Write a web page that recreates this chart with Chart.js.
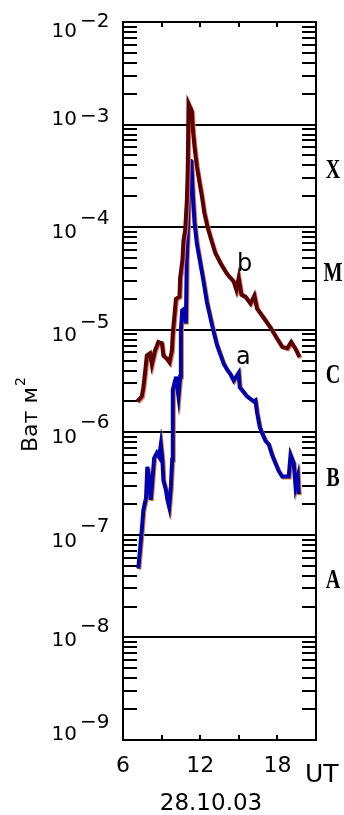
<!DOCTYPE html>
<html>
<head>
<meta charset="utf-8">
<script src="https://cdn.jsdelivr.net/npm/chart.js@4"></script>
<style>
  html, body { margin: 0; padding: 0; background: #fff; }
  #wrap { width: 344px; height: 815px; }
</style>
</head>
<body>
<div id="wrap"><canvas id="flux-chart" width="344" height="815"></canvas></div>
<script>
// curve b (upper, dark red)
const hoursB = [7.11, 7.46, 7.58, 7.71, 7.85, 8.10, 8.24, 8.49, 8.75, 9.02, 9.14, 9.41, 9.61, 9.80, 9.87, 9.98,
  10.11, 10.39, 10.44, 10.62, 10.70, 10.83, 10.96, 11.03, 11.09, 11.35, 11.43, 11.56, 11.74, 11.95, 12.13, 12.31,
  12.57, 12.78, 13.17, 13.56, 14.08, 14.60, 14.81, 14.99, 15.20, 15.51, 15.90, 16.21, 16.42, 16.94, 17.46, 17.85,
  18.37, 18.76, 19.07, 19.41, 19.72];
const fluxB = [2.0e-6, 2.24e-6, 2.75e-6, 3.8e-6, 5.6e-6, 5.9e-6, 4.6e-6, 6.3e-6, 7.6e-6, 7.4e-6, 5.6e-6, 5.2e-6, 4.8e-6, 6.3e-6, 9.3e-6, 1.3e-5,
  2.0e-5, 2.1e-5, 3.2e-5, 4.8e-5, 7.4e-5, 9.3e-5, 1.8e-4, 3.6e-4, 1.6e-3, 1.35e-3, 8.9e-4, 6.0e-4, 3.9e-4, 2.7e-4, 2.0e-4, 1.4e-4,
  1.0e-4, 8.1e-5, 5.6e-5, 4.5e-5, 3.5e-5, 2.95e-5, 2.45e-5, 3.2e-5, 2.2e-5, 2.1e-5, 1.8e-5, 2.15e-5, 1.6e-5, 1.3e-5, 1.05e-5, 8.7e-6,
  6.8e-6, 6.6e-6, 7.6e-6, 6.5e-6, 5.4e-6];

// curve a (lower, blue)
const hoursA = [7.19, 7.33, 7.46, 7.58, 7.79, 7.89, 8.05, 8.16, 8.29, 8.42, 8.63, 8.81, 8.94, 9.06, 9.14, 9.33,
  9.45, 9.59, 9.72, 9.82, 9.87, 10.05, 10.11, 10.31, 10.44, 10.50, 10.60, 10.75, 10.89, 10.95, 11.01, 11.10,
  11.17, 11.31, 11.43, 11.56, 11.74, 12.00, 12.26, 12.52, 12.91, 13.30, 13.82, 14.08, 14.34, 14.60, 14.99, 15.07,
  15.64, 16.16, 16.29, 16.42, 16.63, 16.81, 17.07, 17.33, 17.59, 17.85, 18.10, 18.37, 18.88, 19.02, 19.27, 19.41,
  19.59, 19.66];
const fluxA = [4.7e-8, 7.4e-8, 1.12e-7, 1.74e-7, 2.3e-7, 4.6e-7, 3.4e-7, 2.2e-7, 3.5e-7, 5.6e-7, 6.3e-7, 5.75e-7, 7.6e-7, 5.4e-7, 3.4e-7, 2.75e-7,
  2.2e-7, 1.86e-7, 2.95e-7, 5.4e-7, 2.6e-6, 3.2e-6, 3.5e-6, 2.24e-6, 3.5e-6, 1.0e-5, 1.55e-5, 1.6e-5, 1.15e-5, 4.8e-5, 7.4e-5, 1.8e-4,
  4.5e-4, 4.4e-4, 2.0e-4, 1.1e-4, 6.9e-5, 4.5e-5, 2.95e-5, 1.86e-5, 1.12e-5, 7.1e-6, 4.7e-6, 4.1e-6, 3.7e-6, 3.2e-6, 3.8e-6, 2.75e-6,
  2.24e-6, 2.0e-6, 2.05e-6, 1.55e-6, 1.12e-6, 9.8e-7, 8.3e-7, 7.6e-7, 6.0e-7, 5.0e-7, 4.2e-7, 3.7e-7, 3.7e-7, 6.0e-7, 5.0e-7, 2.95e-7,
  3.7e-7, 2.5e-7];

const xTickHours = [9, 12, 15, 18];
const xLabelHours = [6, 12, 18];
const decadeExponents = [-2, -3, -4, -5, -6, -7, -8, -9];
const classNames = ["X", "M", "C", "B", "A"];
const classLowerBounds = [1e-4, 1e-5, 1e-6, 1e-7, 1e-8];
const curveNames = ["b", "a"];
const curveNameHours = [15.45, 15.35];
const curveNameFlux = [3.7e-5, 4.6e-6];
const xUnit = "UT";
const dateLabel = "28.10.03";
const yTitle = "Ват м";

const ctx = document.getElementById("flux-chart").getContext("2d");

const toPoints = (xs, ys) => xs.map((h, i) => ({ x: h, y: ys[i] }));

// offsets of "10" and exponent baselines from the decade line (px)
const tenOffset = { "-2": 15, "-3": 0, "-4": 11, "-5": 11, "-6": 11, "-7": 12, "-8": 9, "-9": 0 };
const expOffset = { "-2": 5, "-3": -3, "-4": -3, "-5": -2, "-6": -4, "-7": -3, "-8": -5, "-9": -12 };

const shadowColors = ["#e07a6a", "#d4842c"];
const textFont = '"DejaVu Sans"';

const axesPlugin = {
  id: "goesAxes",
  beforeDatasetsDraw(chart) {
    const c = chart.ctx;
    const a = chart.chartArea;
    const x = chart.scales.x;
    const y = chart.scales.y;
    c.save();
    c.strokeStyle = "#000";
    c.lineWidth = 2;
    c.beginPath();
    decadeExponents.forEach((e) => {
      if (e === -2 || e === -9) return;
      const py = Math.round(y.getPixelForValue(Math.pow(10, e)));
      c.moveTo(a.left, py);
      c.lineTo(a.right, py);
    });
    // minor log ticks, both sides
    for (let e = -9; e < -2; e++) {
      for (let m = 2; m <= 9; m++) {
        const py = Math.round(y.getPixelForValue(m * Math.pow(10, e)));
        c.moveTo(a.left, py);
        c.lineTo(a.left + 14, py);
        c.moveTo(a.right - 14, py);
        c.lineTo(a.right, py);
      }
    }
    xTickHours.forEach((h) => {
      const px = Math.round(x.getPixelForValue(h));
      c.moveTo(px, a.top);
      c.lineTo(px, a.top + 5);
      c.moveTo(px, a.bottom);
      c.lineTo(px, a.bottom - 5);
    });
    c.stroke();
    c.restore();
  },
  beforeDatasetDraw(chart, args) {
    chart.ctx.save();
    chart.ctx.shadowColor = shadowColors[args.index];
    chart.ctx.shadowOffsetX = 1;
    chart.ctx.shadowOffsetY = 1;
    chart.ctx.shadowBlur = 0;
  },
  afterDatasetDraw(chart) {
    chart.ctx.restore();
  },
  afterDraw(chart) {
    const c = chart.ctx;
    const a = chart.chartArea;
    const x = chart.scales.x;
    const y = chart.scales.y;
    c.save();
    c.strokeStyle = "#000";
    c.lineWidth = 2;
    c.strokeRect(a.left, a.top, a.right - a.left, a.bottom - a.top);

    c.fillStyle = "#000";
    c.font = "20px " + textFont;
    c.textBaseline = "alphabetic";
    decadeExponents.forEach((e) => {
      const py = y.getPixelForValue(Math.pow(10, e));
      c.textAlign = "right";
      c.fillText("10", a.left - 46, py + tenOffset[e]);
      c.textAlign = "left";
      c.fillText("\u2212" + Math.abs(e), a.left - 43, py + expOffset[e]);
    });

    c.font = "22px " + textFont;
    c.textAlign = "center";
    xLabelHours.forEach((h) => {
      c.fillText(String(h), x.getPixelForValue(h), a.bottom + 32);
    });
    c.font = "25px " + textFont;
    c.textAlign = "left";
    c.fillText(xUnit, a.right - 11, a.bottom + 42);
    c.font = "23px " + textFont;
    c.textAlign = "center";
    c.fillText(dateLabel, 211, a.bottom + 70);

    // curve names
    c.font = "24px " + textFont;
    curveNames.forEach((n, i) => {
      c.fillText(n, x.getPixelForValue(curveNameHours[i]), y.getPixelForValue(curveNameFlux[i]));
    });

    // GOES class letters on the right, narrow bold serif
    c.font = 'bold 28px "Liberation Serif"';
    c.textBaseline = "middle";
    classNames.forEach((n, i) => {
      const py = y.getPixelForValue(classLowerBounds[i] * Math.pow(10, 0.55));
      c.save();
      c.translate(a.right + 17, py);
      c.scale(0.72, 1);
      c.fillText(n, 0, 0);
      c.restore();
    });

    // rotated y title with superscript
    c.translate(37, 452);
    c.rotate(-Math.PI / 2);
    c.textBaseline = "alphabetic";
    c.textAlign = "left";
    c.font = "22px " + textFont;
    c.fillText(yTitle, 0, 0);
    const w = c.measureText(yTitle).width;
    c.font = "14px " + textFont;
    c.fillText("2", w + 1, -12);
    c.restore();
  }
};

new Chart(ctx, {
  type: "line",
  data: {
    datasets: [
      {
        label: "b",
        data: toPoints(hoursB, fluxB),
        borderColor: "#5a0000",
        borderWidth: 4,
        pointRadius: 0,
        tension: 0,
        fill: false,
      },
      {
        label: "a",
        data: toPoints(hoursA, fluxA),
        borderColor: "#0000b0",
        borderWidth: 4,
        pointRadius: 0,
        tension: 0,
        fill: false,
      },
    ],
  },
  options: {
    responsive: false,
    animation: false,
    layout: { padding: { left: 123, right: 28, top: 22, bottom: 75 } },
    plugins: { legend: { display: false }, tooltip: { enabled: false } },
    scales: {
      x: { type: "linear", min: 6, max: 21, display: false },
      y: { type: "logarithmic", min: 1e-9, max: 1e-2, display: false },
    },
  },
  plugins: [axesPlugin],
});
</script>
</body>
</html>
